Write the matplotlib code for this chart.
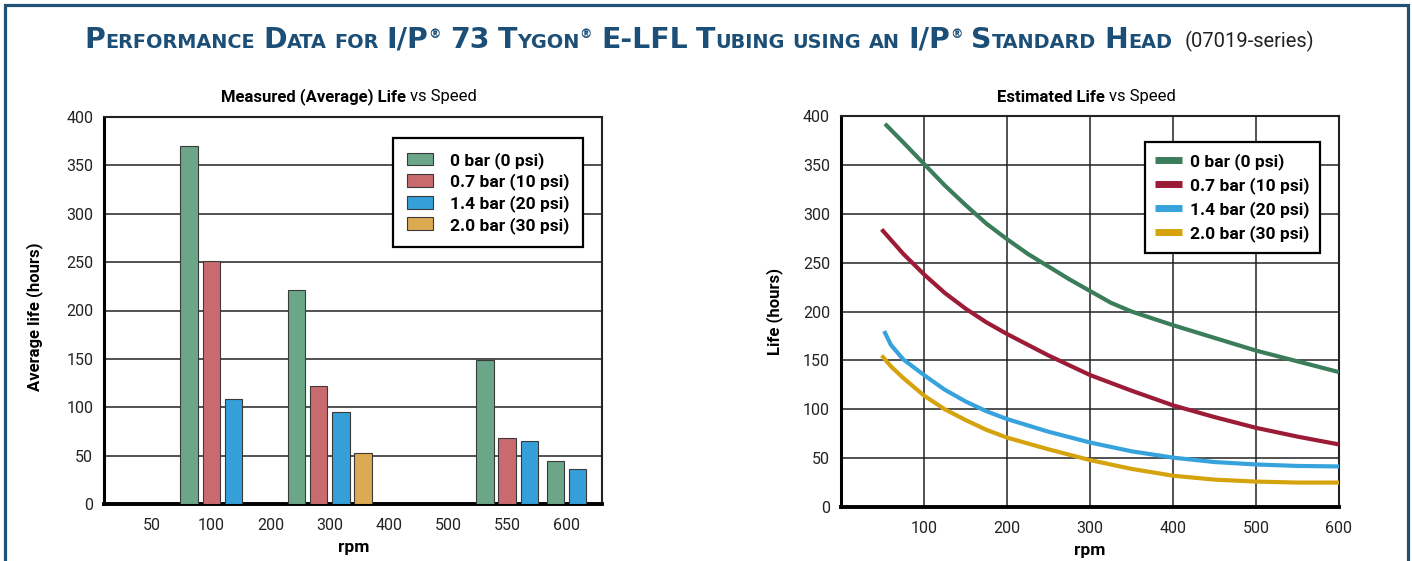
import numpy as np
import matplotlib.pyplot as plt
from matplotlib.patches import Rectangle, Patch

plt.rcParams['font.family'] = ['Roboto', 'DejaVu Sans']

# --- measured (average) life, bar chart ---
rpm_labels = ['50', '100', '200', '300', '400', '500', '550', '600']
measured_0bar = [np.nan, 370, np.nan, 221, np.nan, np.nan, 149, 44]
measured_07bar = [np.nan, 251, np.nan, 122, np.nan, np.nan, 68, np.nan]
measured_14bar = [np.nan, 109, np.nan, 95, np.nan, np.nan, 65, 36]
measured_20bar = [np.nan, np.nan, np.nan, 53, np.nan, np.nan, np.nan, np.nan]

series_names = ['0 bar (0 psi)', '0.7 bar (10 psi)', '1.4 bar (20 psi)', '2.0 bar (30 psi)']

# --- estimated life curves ---
est_rpm_0bar = [53, 75, 100, 125, 150, 175, 200, 225, 250, 275, 300, 325, 350, 400, 450, 500, 550, 600]
est_life_0bar = [392, 373, 351, 329, 309, 290, 274, 259, 246, 233, 221, 209, 200, 186, 173, 160, 149, 138]
est_rpm_07bar = [49, 75, 100, 125, 150, 175, 200, 225, 250, 275, 300, 350, 400, 450, 500, 550, 600]
est_life_07bar = [284, 259, 238, 219, 203, 189, 177, 166, 155, 145, 135, 119, 104, 92, 81, 72, 64]
est_rpm_14bar = [52, 60, 75, 100, 125, 150, 175, 200, 250, 300, 350, 400, 450, 500, 550, 600]
est_life_14bar = [180, 166, 151, 135, 120, 108, 98, 90, 77, 66, 57, 50.5, 46, 43.5, 42, 41.5]
est_rpm_20bar = [49, 60, 75, 100, 125, 150, 175, 200, 250, 300, 350, 400, 450, 500, 550, 600]
est_life_20bar = [155, 144, 132, 114, 100, 89, 79, 71, 59, 48, 39, 32, 28, 26, 25, 25]

bar_colors = ['#6aa687', '#c96b6e', '#359fd9', '#dcaa50']
line_colors = ['#3b7d5a', '#9c1b37', '#37a3dc', '#d5a30e']
title_blue = '#1b4f77'

fig = plt.figure(figsize=(14.12, 5.61), dpi=100)
W, H = 1412, 561

# outer frame
fig.patches.append(Rectangle((4.5 / W, -0.05), (1407.5 - 4.5) / W, (H - 5) / H + 0.05,
                             transform=fig.transFigure, fill=False,
                             edgecolor='#1f5276', linewidth=2.3, clip_on=False))

# ---- title in small caps ----
title_words = [
    [('P', 'big'), ('ERFORMANCE', 'small')],
    [('D', 'big'), ('ATA', 'small')],
    [('FOR', 'small')],
    [('I/P', 'big'), ('®', 'sup')],
    [('73', 'big')],
    [('T', 'big'), ('YGON', 'small'), ('®', 'sup')],
    [('E-LFL', 'big')],
    [('T', 'big'), ('UBING', 'small')],
    [('USING', 'small')],
    [('AN', 'small')],
    [('I/P', 'big'), ('®', 'sup')],
    [('S', 'big'), ('TANDARD', 'small')],
    [('H', 'big'), ('EAD', 'small')],
    [('(07019-series)', 'note')],
]
styles = {
    'big': dict(fontsize=20.4, fontweight='bold', family='DejaVu Sans', color=title_blue),
    'small': dict(fontsize=13.9, fontweight='bold', family='DejaVu Sans', color=title_blue),
    'sup': dict(fontsize=9, fontweight='bold', family='DejaVu Sans', color=title_blue),
    'note': dict(fontsize=14.5, fontweight='normal', color='#222222'),
}
renderer = fig.canvas.get_renderer()
base_y = (H - 47.5) / H
placed = []
x = 0.0
for wi, word in enumerate(title_words):
    if wi > 0:
        x += 13 if word[0][1] == 'note' else 8
    for txt, st in word:
        t = fig.text(0, base_y, txt, va='baseline', ha='left', **styles[st])
        w = t.get_window_extent(renderer).width
        placed.append((t, x, st))
        x += w + (1 if st == 'sup' else 0)
x0 = 699.5 - x / 2
for t, px, st in placed:
    dy = 9 if st == 'sup' else 0
    t.set_position(((x0 + px) / W, base_y + dy / H))


# subtitles: bold part + regular part, centred together
def two_part(xc, y, bold_txt, reg_txt):
    a = fig.text(0, y, bold_txt, fontsize=12, fontweight='bold', va='baseline')
    b = fig.text(0, y, reg_txt, fontsize=12, va='baseline')
    wa = a.get_window_extent(renderer).width
    wb = b.get_window_extent(renderer).width
    gap = 4
    start = xc - (wa + wb + gap) / 2
    a.set_x(start / W)
    b.set_x((start + wa + gap) / W)


two_part(349, (H - 101.5) / H, 'Measured (Average) Life', 'vs Speed')
two_part(1086.5, (H - 101.5) / H, 'Estimated Life', 'vs Speed')

# ---- left: bar chart ----
ax1 = fig.add_axes([104.3 / W, (H - 504) / H, 498 / W, 387 / H])
measured = [measured_0bar, measured_07bar, measured_14bar, measured_20bar]
step, width = 0.375, 0.296
for i in range(len(rpm_labels)):
    present = [k for k in range(len(measured)) if not np.isnan(measured[k][i])]
    for j, k in enumerate(present):
        xpos = i + (j - (len(present) - 1) / 2) * step
        ax1.bar(xpos, measured[k][i], width, color=bar_colors[k],
                edgecolor='#3a3a3a', linewidth=0.8, zorder=3)
ax1.set_xlim(-0.808, 7.606)
ax1.set_ylim(0, 400)
ax1.set_xticks(range(len(rpm_labels)))
ax1.set_xticklabels(rpm_labels)
ax1.set_yticks(range(0, 401, 50))
ax1.yaxis.grid(True, color='#222222', linewidth=1.1)
ax1.set_axisbelow(True)
ax1.set_ylabel('Average life (hours)', fontsize=12, fontweight='bold')
ax1.yaxis.set_label_coords(-0.1237, 0.485)
ax1.set_xlabel('rpm', fontsize=12.5, fontweight='bold', labelpad=5)
handles = [Patch(facecolor=c, edgecolor='#3a3a3a', linewidth=0.8) for c in bar_colors]
leg1 = ax1.legend(handles, series_names, loc='upper right', bbox_to_anchor=(0.962, 0.946),
                  borderaxespad=0, fancybox=False, edgecolor='black', framealpha=1,
                  prop=dict(weight='bold', size=12.5), handlelength=1.5, handleheight=0.75,
                  handletextpad=1.0, labelspacing=0.27, borderpad=0.8)
leg1.get_frame().set_linewidth(1.6)

# ---- right: curves ----
ax2 = fig.add_axes([841 / W, (H - 507) / H, 498 / W, 391 / H])
est_rpm = [est_rpm_0bar, est_rpm_07bar, est_rpm_14bar, est_rpm_20bar]
est_life = [est_life_0bar, est_life_07bar, est_life_14bar, est_life_20bar]
for r, l, c, n in zip(est_rpm, est_life, line_colors, series_names):
    ax2.plot(r, l, color=c, linewidth=3.0, label=n, zorder=3,
             solid_capstyle='butt', solid_joinstyle='round')
ax2.set_xlim(0, 600)
ax2.set_ylim(0, 400)
ax2.set_xticks(range(100, 601, 100))
ax2.set_yticks(range(0, 401, 50))
ax2.grid(True, color='#222222', linewidth=1.1)
ax2.set_axisbelow(True)
ax2.set_ylabel('Life (hours)', fontsize=12, fontweight='bold')
ax2.yaxis.set_label_coords(-0.1165, 0.5)
ax2.set_xlabel('rpm', fontsize=12.5, fontweight='bold', labelpad=5)
leg2 = ax2.legend(loc='upper right', bbox_to_anchor=(0.962, 0.933), borderaxespad=0,
                  fancybox=False, edgecolor='black', framealpha=1,
                  prop=dict(weight='bold', size=12.5), handlelength=1.55,
                  handletextpad=0.45, labelspacing=0.42, borderpad=0.6)
leg2.get_frame().set_linewidth(1.6)
for h in leg2.get_lines():
    h.set_linewidth(5)

for ax in (ax1, ax2):
    ax.tick_params(length=0, labelsize=11.5, colors='#222222')
    ax.tick_params(axis='x', pad=10)
    ax.tick_params(axis='y', pad=8)
    for s in ('top', 'right'):
        ax.spines[s].set_linewidth(1.5)
        ax.spines[s].set_color('#222222')
    for s in ('left', 'bottom'):
        ax.spines[s].set_linewidth(2.2)
        ax.spines[s].set_color('black')
    ax.spines['bottom'].set_linewidth(2.8)

fig.savefig('out.png', dpi=100)
